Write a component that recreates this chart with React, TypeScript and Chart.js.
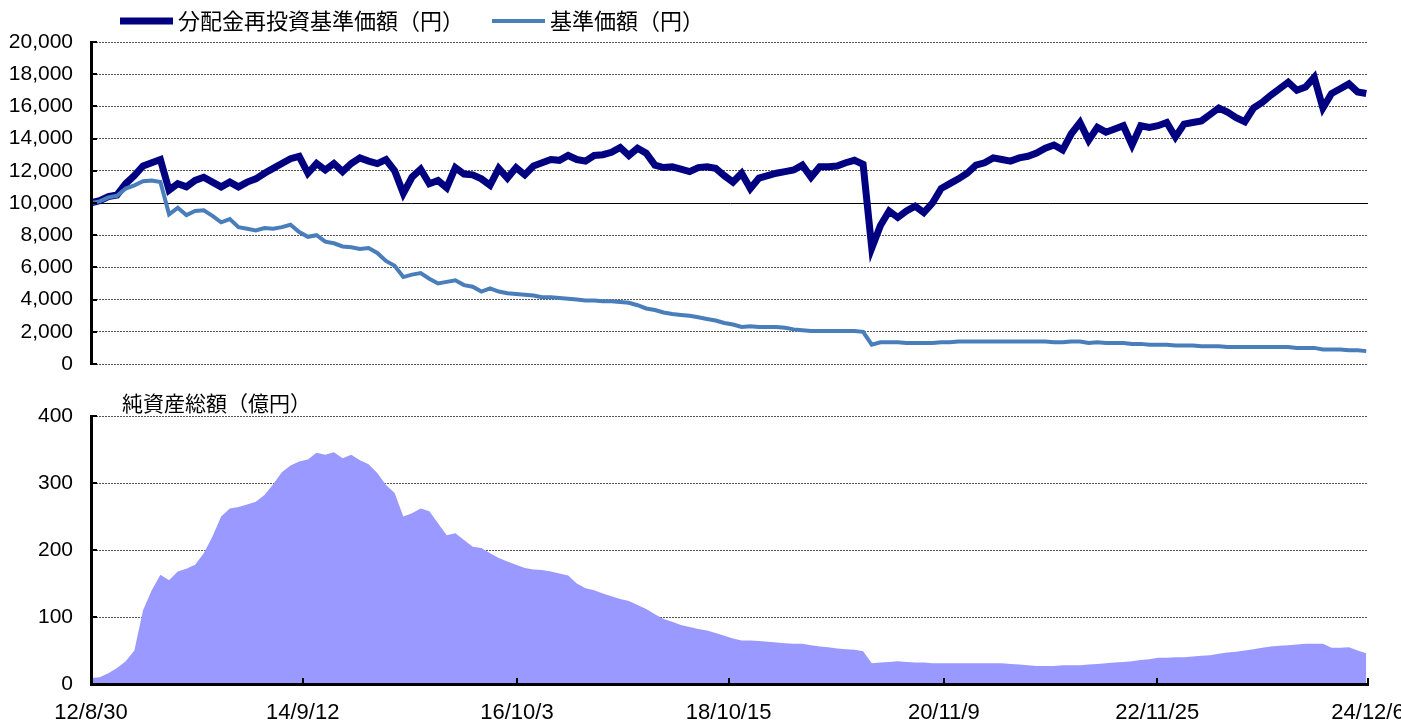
import React, { useEffect, useRef } from 'react';
import { Chart, registerables } from 'chart.js';

Chart.register(...registerables);

// Monthly samples, index 0 = 2012/8/30 (fund launch), one value per month.
const reinvestedNav = [
  10000, 10150, 10400, 10500, 11200, 11700, 12300, 12500, 12700, 10800,
  11200, 11000, 11400, 11600, 11300, 11000, 11300, 11000, 11300, 11500,
  11850, 12150, 12450, 12750, 12900, 11850, 12450, 12050, 12450, 11950,
  12450, 12800, 12600, 12450, 12700, 12000, 10600, 11600, 12100, 11200,
  11400, 10950, 12200, 11800, 11750, 11500, 11100, 12150, 11550, 12200,
  11750, 12300, 12500, 12700, 12650, 12950, 12700, 12600, 12950, 13000,
  13150, 13450, 12950, 13400, 13100, 12350, 12200, 12250, 12100, 11950,
  12200, 12250, 12150, 11700, 11300, 11850, 10900, 11550, 11700, 11850,
  11950, 12050, 12350, 11600, 12250, 12250, 12300, 12500, 12650, 12400,
  7200, 8600, 9500, 9100, 9500, 9800, 9400, 10000, 10900, 11200,
  11500, 11850, 12350, 12500, 12800, 12700, 12600, 12800, 12900, 13100,
  13400, 13600, 13300, 14300, 15000, 13900, 14700, 14400, 14600, 14800,
  13600, 14800, 14700, 14800, 15000, 14100, 14900, 15000, 15100, 15500,
  15900, 15650, 15300, 15050, 15900, 16250, 16700, 17100, 17500, 17000,
  17200, 17800, 15900, 16800, 17100, 17400, 16900, 16800,
];

const nav = [
  10000, 10100, 10350, 10450, 10900, 11100, 11350, 11400, 11300, 9300,
  9700, 9250, 9500, 9550, 9200, 8800, 9000, 8500, 8400, 8300,
  8450, 8400, 8500, 8650, 8200, 7900, 8000, 7600, 7500, 7300,
  7250, 7150, 7200, 6900, 6400, 6100, 5400, 5550, 5650, 5300,
  5000, 5100, 5200, 4900, 4800, 4500, 4700, 4500, 4400, 4350,
  4300, 4250, 4150, 4150, 4100, 4050, 4000, 3950, 3950, 3900,
  3900, 3850, 3800, 3650, 3450, 3350, 3200, 3100, 3050, 3000,
  2900, 2800, 2700, 2550, 2450, 2300, 2350, 2300, 2300, 2300,
  2250, 2150, 2100, 2050, 2050, 2050, 2050, 2050, 2050, 2000,
  1200, 1350, 1350, 1350, 1300, 1300, 1300, 1300, 1350, 1350,
  1400, 1400, 1400, 1400, 1400, 1400, 1400, 1400, 1400, 1400,
  1400, 1350, 1350, 1400, 1400, 1300, 1350, 1300, 1300, 1300,
  1250, 1250, 1200, 1200, 1200, 1150, 1150, 1150, 1100, 1100,
  1100, 1050, 1050, 1050, 1050, 1050, 1050, 1050, 1050, 1000,
  1000, 1000, 900, 900, 900, 850, 850, 800,
];

const netAssets = [
  9, 10, 16, 24, 34, 50, 110, 140, 163, 155,
  168, 172, 178, 195, 220, 250, 262, 264, 268, 272,
  282, 298, 316, 326, 332, 335, 345, 342, 346, 337,
  342, 334, 328, 315, 297, 285, 250, 255, 262, 258,
  240, 222, 225, 215, 205, 203, 195, 188, 183, 178,
  173, 171, 170, 168, 165, 162, 150, 143, 140, 135,
  131, 127, 124, 118, 112, 104, 97, 93, 88, 85,
  82, 80, 76, 72, 68, 65, 65, 64, 63, 62,
  61, 60, 60, 58, 56, 55, 53, 52, 51, 49,
  31, 32, 33, 34, 33, 32, 32, 31, 31, 31,
  31, 31, 31, 31, 31, 31, 30, 29, 28, 27,
  27, 27, 28, 28, 28, 29, 30, 31, 32, 33,
  34, 36, 37, 39, 39, 40, 40, 41, 42, 43,
  45, 47, 48, 50, 52, 54, 56, 57, 58, 59,
  60, 60, 60, 54, 54, 55, 50, 46,
];

// Date ticks, given as months elapsed since 2012/8/30
const xTickMonths = [0, 24.4, 49.1, 73.5, 98.3, 122.9, 147.2];
const xTickLabels = ['12/8/30', '14/9/12', '16/10/3', '18/10/15', '20/11/9', '22/11/25', '24/12/6'];

const seriesLabels = ['分配金再投資基準価額（円）', '基準価額（円）'];
const assetsTitle = '純資産総額（億円）';

const DARK = '#000080';
const LIGHT = '#4A7EBB';
const AREA = '#9999FF';
const NUM_FONT = '"Liberation Sans", Arial, sans-serif';
const JP_FONT = '"Noto Sans CJK JP", sans-serif';
const X_MAX = 147.2;

const toXY = (arr: number[]) => arr.map((v, i) => ({ x: i, y: v }));

const innerTicks = {
  id: 'innerTicks',
  afterDraw(chart: any, _args: any, opts: any) {
    const { ctx, chartArea } = chart;
    ctx.save();
    ctx.strokeStyle = '#000';
    ctx.lineWidth = 2;
    ctx.setLineDash([]);
    const ys = chart.scales.y;
    ys.ticks.forEach((_t: any, i: number) => {
      const py = Math.round(ys.getPixelForTick(i));
      ctx.beginPath();
      ctx.moveTo(chartArea.left, py);
      ctx.lineTo(chartArea.left + 6, py);
      ctx.stroke();
    });
    if (opts && opts.xTicks) {
      const xs = chart.scales.x;
      xs.ticks.forEach((_t: any, i: number) => {
        const px = Math.round(xs.getPixelForTick(i));
        ctx.beginPath();
        ctx.moveTo(px, chartArea.bottom);
        ctx.lineTo(px, chartArea.bottom - 6);
        ctx.stroke();
      });
    }
    ctx.restore();
  },
};

const topLegend = {
  id: 'topLegend',
  afterDraw(chart: any) {
    const { ctx } = chart;
    const items = [
      { ds: chart.data.datasets[0], lx: 120, tx: 178 },
      { ds: chart.data.datasets[1], lx: 492, tx: 550 },
    ];
    ctx.save();
    items.forEach(({ ds, lx, tx }) => {
      ctx.strokeStyle = ds.borderColor;
      ctx.lineWidth = ds.borderWidth;
      ctx.lineCap = 'butt';
      ctx.beginPath();
      ctx.moveTo(lx, 21);
      ctx.lineTo(lx + 53, 21);
      ctx.stroke();
      ctx.fillStyle = '#000';
      ctx.font = `22px ${JP_FONT}`;
      ctx.textBaseline = 'middle';
      ctx.textAlign = 'left';
      ctx.fillText(ds.label, tx, 21);
    });
    ctx.restore();
  },
};

const bottomTitle = {
  id: 'bottomTitle',
  afterDraw(chart: any) {
    const { ctx } = chart;
    ctx.save();
    ctx.fillStyle = '#000';
    ctx.font = `21px ${JP_FONT}`;
    ctx.textBaseline = 'middle';
    ctx.textAlign = 'left';
    ctx.fillText(assetsTitle, 122, 23);
    ctx.restore();
  },
};

const yAxisBase = (max: number, step: number, solidAt: number | null) => ({
  min: 0,
  max,
  afterFit: (s: any) => {
    s.width = 91;
    s.paddingTop = 0;
    s.paddingBottom = 0;
  },
  ticks: {
    stepSize: step,
    padding: 18,
    color: '#000',
    font: { family: NUM_FONT, size: 21 },
    callback: (v: any) => Number(v).toLocaleString('en-US'),
  },
  grid: {
    drawTicks: false,
    color: (c: any) => (c.tick && solidAt !== null && c.tick.value === solidAt ? '#000' : '#555'),
    lineWidth: 1,
  },
  border: {
    display: true,
    color: '#000',
    width: 3,
    z: 1,
    dash: (c: any) => (c.tick && solidAt !== null && c.tick.value === solidAt ? [] : [2, 1]),
  },
});

export default function App() {
  const topRef = useRef<HTMLCanvasElement>(null);
  const botRef = useRef<HTMLCanvasElement>(null);

  useEffect(() => {
    const top = new Chart(topRef.current as HTMLCanvasElement, {
      type: 'line',
      data: {
        datasets: [
          {
            label: seriesLabels[0],
            data: toXY(reinvestedNav),
            borderColor: DARK,
            borderWidth: 7,
            pointRadius: 0,
            tension: 0,
            order: 1,
          },
          {
            label: seriesLabels[1],
            data: toXY(nav),
            borderColor: LIGHT,
            borderWidth: 4,
            pointRadius: 0,
            tension: 0,
            order: 0,
          },
        ],
      },
      options: {
        animation: false,
        responsive: false,
        maintainAspectRatio: false,
        layout: { padding: { left: 0, top: 42, right: 33, bottom: 16 } },
        plugins: { legend: { display: false }, tooltip: { enabled: false } },
        scales: {
          x: { type: 'linear', display: false, min: 0, max: X_MAX },
          y: yAxisBase(20000, 2000, 10000) as any,
        },
      },
      plugins: [innerTicks, topLegend],
    } as any);

    const bottom = new Chart(botRef.current as HTMLCanvasElement, {
      type: 'line',
      data: {
        datasets: [
          {
            label: assetsTitle,
            data: toXY(netAssets),
            borderWidth: 0,
            borderColor: AREA,
            backgroundColor: AREA,
            fill: 'origin',
            pointRadius: 0,
            tension: 0,
          },
        ],
      },
      options: {
        animation: false,
        responsive: false,
        maintainAspectRatio: false,
        layout: { padding: { left: 0, top: 36, right: 33, bottom: 0 } },
        plugins: { legend: { display: false }, tooltip: { enabled: false }, innerTicks: { xTicks: true } },
        scales: {
          x: {
            type: 'linear',
            min: 0,
            max: X_MAX,
            afterBuildTicks: (s: any) => {
              s.ticks = xTickMonths.map((v) => ({ value: v }));
            },
            afterFit: (s: any) => {
              s.height = 39;
              s.paddingLeft = 0;
              s.paddingRight = 0;
            },
            ticks: {
              autoSkip: false,
              maxRotation: 0,
              padding: 16,
              color: '#000',
              font: { family: NUM_FONT, size: 22 },
              callback: (_v: any, i: number) => xTickLabels[i],
            },
            grid: { display: false, drawTicks: false },
            border: { display: true, color: '#000', width: 3, z: 1 },
          },
          y: yAxisBase(400, 100, null) as any,
        },
      },
      plugins: [innerTicks, bottomTitle],
    } as any);

    return () => {
      top.destroy();
      bottom.destroy();
    };
  }, []);

  return (
    <div style={{ position: 'absolute', left: 0, top: 0, width: 1401, height: 723, background: '#fff', overflow: 'hidden' }}>
      <canvas ref={topRef} width={1401} height={380} style={{ position: 'absolute', left: 0, top: 0, display: 'block' }} />
      <canvas ref={botRef} width={1401} height={343} style={{ position: 'absolute', left: 0, top: 380, display: 'block' }} />
    </div>
  );
}
